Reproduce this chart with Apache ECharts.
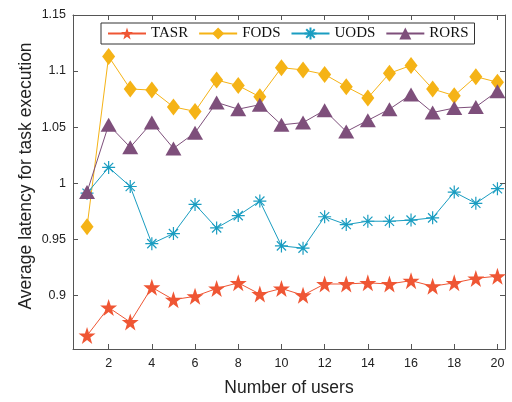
<!DOCTYPE html>
<html>
<head>
<meta charset="utf-8">
<script src="https://cdn.jsdelivr.net/npm/echarts@6/dist/echarts.min.js"></script>
<style>
  html, body { margin: 0; padding: 0; background: #fff; }
  #chart { width: 512px; height: 402px; }
</style>
</head>
<body>
<div id="chart"></div>
<script>
// Number of users on the x axis
const users = [1, 2, 3, 4, 5, 6, 7, 8, 9, 10, 11, 12, 13, 14, 15, 16, 17, 18, 19, 20];

// Average latency for task execution per scheme
const tasr = [0.864, 0.889, 0.876, 0.907, 0.896, 0.899, 0.906, 0.911, 0.901, 0.906,
              0.900, 0.910, 0.910, 0.911, 0.910, 0.913, 0.908, 0.911, 0.915, 0.917];
const fods = [0.961, 1.113, 1.084, 1.083, 1.068, 1.064, 1.092, 1.087, 1.077, 1.103,
              1.101, 1.097, 1.086, 1.076, 1.098, 1.105, 1.084, 1.078, 1.095, 1.090];
const uods = [0.991, 1.014, 0.997, 0.946, 0.955, 0.981, 0.960, 0.971, 0.984, 0.944,
              0.942, 0.970, 0.963, 0.966, 0.966, 0.967, 0.969, 0.992, 0.982, 0.995];
const rors = [0.992, 1.052, 1.032, 1.054, 1.031, 1.045, 1.072, 1.066, 1.070, 1.052,
              1.054, 1.065, 1.046, 1.056, 1.066, 1.079, 1.063, 1.067, 1.068, 1.082];

// Tick positions
const xTicks = [2, 4, 6, 8, 10, 12, 14, 16, 18, 20];
const yTicks = [0.9, 0.95, 1, 1.05, 1.1, 1.15];

const seriesNames = ['TASR', 'FODS', 'UODS', 'RORS'];
const seriesColors = ['#EF5634', '#F5B316', '#1A9DC1', '#7E4F7B'];

const starPath = 'path://M50,0 L61.8,35.1 L98.1,35.1 L68.8,56.7 L79.4,91.6 L50,70 L20.6,91.6 L31.2,56.7 L1.9,35.1 L38.2,35.1 Z';
const asteriskPath = 'path://M0,-10 L0,10 M-10,0 L10,0 M-7.07,-7.07 L7.07,7.07 M-7.07,7.07 L7.07,-7.07';

const axisColor = '#555';
const xMin = 0.35, xMax = 20.35;
const yMin = 0.852, yMax = 1.15;

function pairs(vals) {
  return users.map((u, i) => [u, vals[i]]);
}

function makeSeries(name, vals, color, symbol, size, extra) {
  return Object.assign({
    name: name,
    type: 'line',
    data: pairs(vals),
    symbol: symbol,
    symbolSize: size,
    showAllSymbol: true,
    lineStyle: { color: color, width: 1 },
    itemStyle: { color: color },
    z: 3
  }, extra || {});
}

const chart = echarts.init(document.getElementById('chart'), null, { renderer: 'canvas' });

const tickFont = { fontFamily: 'Liberation Sans, Arial, sans-serif', fontSize: 12.5, color: '#222' };
const nameFont = { fontFamily: 'Liberation Sans, Arial, sans-serif', fontSize: 17.5, color: '#222' };

chart.setOption({
  animation: false,
  backgroundColor: '#fff',
  grid: { left: 73, right: 7, top: 15, bottom: 50 },
  legend: {
    data: seriesNames,
    left: 101,
    top: 23,
    padding: [3, 6, 3, 6],
    itemGap: 10,
    itemWidth: 38,
    itemHeight: 15,
    backgroundColor: '#fff',
    borderColor: '#333',
    borderWidth: 1,
    textStyle: { fontFamily: 'Liberation Serif, Times New Roman, serif', fontSize: 15, color: '#111' }
  },
  xAxis: [
    {
      type: 'value', min: xMin, max: xMax,
      name: 'Number of users', nameLocation: 'middle', nameGap: 30,
      nameMoveOverlap: false,
      nameTextStyle: nameFont,
      axisLine: { onZero: false, lineStyle: { color: axisColor, width: 1 } },
      axisTick: { inside: true, length: 5, customValues: xTicks, lineStyle: { color: axisColor } },
      axisLabel: { customValues: xTicks, margin: 8, ...tickFont },
      splitLine: { show: false }
    },
    {
      type: 'value', min: xMin, max: xMax, position: 'top',
      axisLine: { onZero: false, lineStyle: { color: axisColor, width: 1 } },
      axisTick: { inside: true, length: 5, customValues: xTicks, lineStyle: { color: axisColor } },
      axisLabel: { show: false },
      splitLine: { show: false }
    }
  ],
  yAxis: [
    {
      type: 'value', min: yMin, max: yMax,
      name: 'Average latency for task execution', nameLocation: 'middle', nameGap: 38,
      nameMoveOverlap: false,
      nameTextStyle: Object.assign({ padding: [0, 0, 0, 12] }, nameFont),
      axisLine: { onZero: false, lineStyle: { color: axisColor, width: 1 } },
      axisTick: { inside: true, length: 5, customValues: yTicks, lineStyle: { color: axisColor } },
      axisLabel: { customValues: yTicks, margin: 7, ...tickFont },
      splitLine: { show: false }
    },
    {
      type: 'value', min: yMin, max: yMax, position: 'right',
      axisLine: { onZero: false, lineStyle: { color: axisColor, width: 1 } },
      axisTick: { inside: true, length: 5, customValues: yTicks, lineStyle: { color: axisColor } },
      axisLabel: { show: false },
      splitLine: { show: false }
    }
  ],
  series: [
    makeSeries('TASR', tasr, seriesColors[0], starPath, 17),
    makeSeries('FODS', fods, seriesColors[1], 'diamond', [13, 17]),
    makeSeries('UODS', uods, seriesColors[2], asteriskPath, 13, {
      itemStyle: { color: seriesColors[2], borderColor: seriesColors[2], borderWidth: 1.2 }
    }),
    makeSeries('RORS', rors, seriesColors[3], 'triangle', [16, 14])
  ]
});
</script>
</body>
</html>
